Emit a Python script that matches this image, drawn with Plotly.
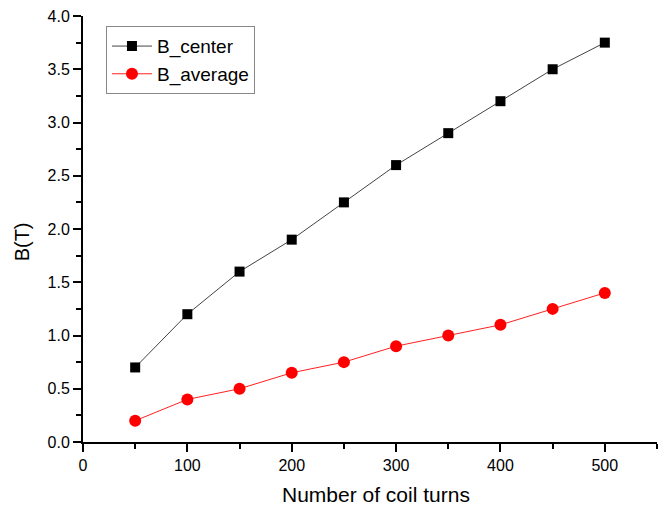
import plotly.graph_objects as go

turns = [50, 100, 150, 200, 250, 300, 350, 400, 450, 500]
b_center = [0.7, 1.2, 1.6, 1.9, 2.25, 2.6, 2.9, 3.2, 3.5, 3.75]
b_average = [0.2, 0.4, 0.5, 0.65, 0.75, 0.9, 1.0, 1.1, 1.25, 1.4]

fig = go.Figure()
fig.add_trace(go.Scatter(x=turns, y=b_center, name="B_center", mode="lines+markers",
                         line=dict(color="#444444", width=1),
                         marker=dict(symbol="square", size=10, color="black")))
fig.add_trace(go.Scatter(x=turns, y=b_average, name="B_average", mode="lines+markers",
                         line=dict(color="#ff2020", width=1),
                         marker=dict(symbol="circle", size=12, color="#ff0000")))

font = "Arial, Liberation Sans, sans-serif"
axis_common = dict(showline=True, linecolor="black", linewidth=2, ticks="outside",
                   ticklen=8, tickwidth=1.5, tickcolor="black", showgrid=False,
                   zeroline=False, tickfont=dict(family=font, size=16, color="black"),
                   mirror=False)
fig.update_layout(
    width=666, height=509,
    margin=dict(l=83, r=9, t=16, b=67),
    plot_bgcolor="white", paper_bgcolor="white",
    xaxis=dict(range=[0, 550], tickvals=[0, 100, 200, 300, 400, 500],
               minor=dict(tickvals=[50, 150, 250, 350, 450, 550], ticklen=5, tickwidth=1.5,
                          tickcolor="black", ticks="outside"),
               **axis_common),
    yaxis=dict(range=[0, 4.0], tickvals=[0, 0.5, 1.0, 1.5, 2.0, 2.5, 3.0, 3.5, 4.0],
               ticktext=["0.0", "0.5", "1.0", "1.5", "2.0", "2.5", "3.0", "3.5", "4.0"],
               minor=dict(tickvals=[0.25, 0.75, 1.25, 1.75, 2.25, 2.75, 3.25, 3.75],
                          ticklen=5, tickwidth=1.5, tickcolor="black", ticks="outside"),
               **axis_common),
    legend=dict(x=0.04, y=0.976, xanchor="left", yanchor="top",
                bordercolor="#888888", borderwidth=1, bgcolor="white",
                font=dict(family=font, size=19, color="black"),
                tracegroupgap=0, itemwidth=40),
    showlegend=True,
    annotations=[
        dict(text="Number of coil turns", xref="paper", yref="paper", x=0.51, y=-0.1244,
             xanchor="center", yanchor="middle", showarrow=False,
             font=dict(family=font, size=21, color="black")),
        dict(text="B(T)", xref="paper", yref="paper", x=-0.106, y=0.469,
             xanchor="center", yanchor="middle", showarrow=False, textangle=-90,
             font=dict(family=font, size=20, color="black")),
    ],
)
fig.write_html("out.html")
